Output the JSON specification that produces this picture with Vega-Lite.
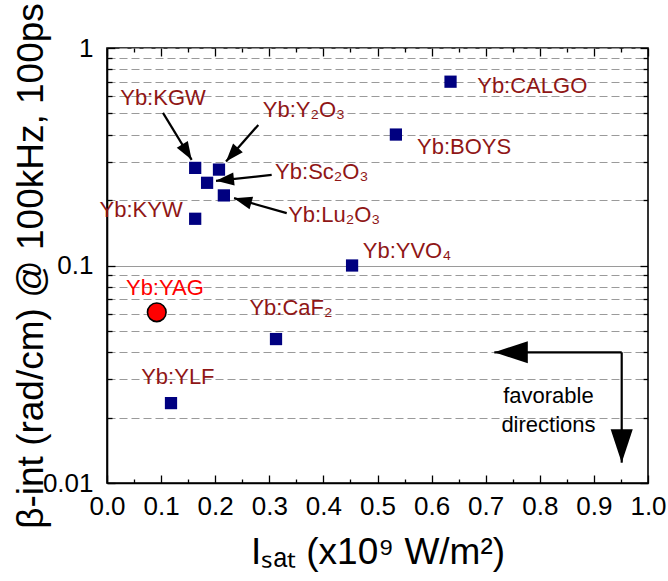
{
  "$schema": "https://vega.github.io/schema/vega-lite/v6.json",
  "width": 541,
  "height": 435,
  "autosize": {"type": "none"},
  "padding": {"left": 107, "top": 48, "right": 20, "bottom": 98},
  "background": "white",
  "config": {
    "view": {"stroke": "#000", "strokeWidth": 1.6},
    "font": "Liberation Sans",
    "text": {"font": "Liberation Sans"},
    "axis": {
      "domainColor": "#000", "domainWidth": 1.6,
      "tickColor": "#000", "tickWidth": 1.3,
      "labelColor": "#000", "titleColor": "#000",
      "labelFont": "Liberation Sans", "titleFont": "Liberation Sans",
      "titleFontWeight": "normal"
    }
  },
  "datasets": {
    "crystals": [
      {"name": "Yb:CALGO", "x": 0.635, "y": 0.70, "lx": 0.786, "ly": 0.668},
      {"name": "Yb:BOYS", "x": 0.534, "y": 0.40, "lx": 0.66, "ly": 0.35},
      {"name": "Yb:KGW", "x": 0.163, "y": 0.281, "lx": 0.1035, "ly": 0.589},
      {"name": "Yb:Y₂O₃", "x": 0.207, "y": 0.276, "lx": 0.364, "ly": 0.518},
      {"name": "Yb:Sc₂O₃", "x": 0.185, "y": 0.240, "lx": 0.397, "ly": 0.269},
      {"name": "Yb:Lu₂O₃", "x": 0.216, "y": 0.210, "lx": 0.42, "ly": 0.171},
      {"name": "Yb:KYW", "x": 0.163, "y": 0.164, "lx": 0.063, "ly": 0.180},
      {"name": "Yb:YVO₄", "x": 0.453, "y": 0.1, "lx": 0.5545, "ly": 0.1166},
      {"name": "Yb:YAG", "x": 0.092, "y": 0.0609, "lx": 0.107, "ly": 0.0792},
      {"name": "Yb:CaF₂", "x": 0.3124, "y": 0.0459, "lx": 0.34, "ly": 0.0638},
      {"name": "Yb:YLF", "x": 0.1183, "y": 0.0233, "lx": 0.131, "ly": 0.0307}
    ],
    "arrows": [
      {"target": "Yb:KGW", "x": 0.1035, "y": 0.503, "x2": 0.1565, "y2": 0.306, "angle": 148.6, "head": "small"},
      {"target": "Yb:Y2O3", "x": 0.2797, "y": 0.443, "x2": 0.22, "y2": 0.301, "angle": 221.4, "head": "small"},
      {"target": "Yb:Sc2O3", "x": 0.3044, "y": 0.261, "x2": 0.2015, "y2": 0.245, "angle": 263.9, "head": "small"},
      {"target": "Yb:Lu2O3", "x": 0.3322, "y": 0.174, "x2": 0.2348, "y2": 0.204, "angle": 285.9, "head": "small"},
      {"target": "lower Isat", "x": 0.9514, "y": 0.0399, "x2": 0.7159, "y2": 0.0399, "angle": 270, "head": "big"},
      {"target": "lower beta", "x": 0.9514, "y": 0.0399, "x2": 0.9514, "y2": 0.0124, "angle": 180, "head": "big"}
    ],
    "notes": [
      {"note": "favorable directions", "x": 0.816, "y": 0.0252}
    ]
  },
  "layer": [
    {
      "data": {"name": "crystals"},
      "transform": [{"filter": "datum.name !== 'Yb:YAG'"}],
      "mark": {"type": "square", "size": 150, "color": "#000080", "opacity": 1},
      "encoding": {
        "x": {
          "field": "x", "type": "quantitative",
          "scale": {"domain": [0, 1], "nice": false, "zero": false},
          "axis": {
            "orient": "bottom",
            "values": [0, 0.05, 0.1, 0.15, 0.2, 0.25, 0.3, 0.35, 0.4, 0.45, 0.5, 0.55, 0.6, 0.65, 0.7, 0.75, 0.8, 0.85, 0.9, 0.95, 1],
            "labelExpr": "abs(datum.value*10 - round(datum.value*10)) < 1e-6 ? format(datum.value, '.1f') : ''",
            "labelFontSize": 26,
            "labelPadding": 18,
            "labelFlush": false,
            "labelOverlap": false,
            "labelBound": false,
            "tickSize": {"condition": {"test": "abs(datum.value*10 - round(datum.value*10)) < 1e-6", "value": -8}, "value": -4},
            "grid": false,
            "title": "Iₛₐₜ (x10⁹ W/m²)",
            "titleFontSize": 37,
            "titleBaseline": "alphabetic",
            "titleY": 80
          }
        },
        "y": {
          "field": "y", "type": "quantitative",
          "scale": {"type": "log", "domain": [0.01, 1], "nice": false},
          "axis": {
            "orient": "left",
            "values": [0.01, 0.02, 0.03, 0.04, 0.05, 0.06, 0.07, 0.08, 0.09, 0.1, 0.2, 0.3, 0.4, 0.5, 0.6, 0.7, 0.8, 0.9, 1],
            "labelExpr": "datum.value === 0.01 ? '0.01' : datum.value === 0.1 ? '0.1' : datum.value === 1 ? '1' : ''",
            "labelFontSize": 26,
            "labelPadding": 22,
            "labelFlush": false,
            "labelOverlap": false,
            "labelBound": false,
            "tickSize": {"condition": {"test": "datum.value === 0.01 || datum.value === 0.1 || datum.value === 1", "value": -8}, "value": -5},
            "grid": true,
            "gridColor": "#9a9a9a",
            "gridWidth": 1.2,
            "gridDash": {"condition": {"test": "datum.value === 0.1", "value": []}, "value": [8, 4]},
            "title": "β-int (rad/cm) @ 100kHz, 100ps",
            "titleFontSize": 37,
            "titleBaseline": "alphabetic",
            "titleX": -65
          }
        }
      }
    },
    {
      "data": {"name": "crystals"},
      "transform": [{"filter": "datum.name === 'Yb:YAG'"}],
      "mark": {"type": "circle", "size": 346, "fill": "#ff0000", "stroke": "#000", "strokeWidth": 1.6, "opacity": 1},
      "encoding": {
        "x": {"field": "x", "type": "quantitative", "scale": {"domain": [0, 1], "nice": false, "zero": false}, "axis": null},
        "y": {"field": "y", "type": "quantitative", "scale": {"type": "log", "domain": [0.01, 1], "nice": false}, "axis": null}
      }
    },
    {
      "data": {"name": "crystals"},
      "mark": {"type": "text", "fontSize": 22, "align": "center", "baseline": "middle"},
      "encoding": {
        "x": {"field": "lx", "type": "quantitative", "scale": {"domain": [0, 1], "nice": false, "zero": false}, "axis": null},
        "y": {"field": "ly", "type": "quantitative", "scale": {"type": "log", "domain": [0.01, 1], "nice": false}, "axis": null},
        "text": {"field": "name", "type": "nominal"},
        "color": {"condition": {"test": "datum.name === 'Yb:YAG'", "value": "#ff0000"}, "value": "#8f1616"}
      }
    },
    {
      "data": {"name": "arrows"},
      "mark": {"type": "rule", "color": "#000", "strokeWidth": 2.2},
      "encoding": {
        "x": {"field": "x", "type": "quantitative", "scale": {"domain": [0, 1], "nice": false, "zero": false}, "axis": null},
        "y": {"field": "y", "type": "quantitative", "scale": {"type": "log", "domain": [0.01, 1], "nice": false}, "axis": null},
        "x2": {"field": "x2"},
        "y2": {"field": "y2"}
      }
    },
    {
      "data": {"name": "arrows"},
      "transform": [{"filter": "datum.head === 'small'"}],
      "mark": {"type": "point", "shape": "M0,0L0.36,1L-0.36,1Z", "filled": true, "fill": "#000", "strokeWidth": 0, "size": 1296, "opacity": 1},
      "encoding": {
        "x": {"field": "x2", "type": "quantitative", "scale": {"domain": [0, 1], "nice": false, "zero": false}, "axis": null},
        "y": {"field": "y2", "type": "quantitative", "scale": {"type": "log", "domain": [0.01, 1], "nice": false}, "axis": null},
        "angle": {"field": "angle", "type": "quantitative", "scale": null}
      }
    },
    {
      "data": {"name": "arrows"},
      "transform": [{"filter": "datum.head === 'big'"}],
      "mark": {"type": "point", "shape": "M0,0L0.33,1L-0.33,1Z", "filled": true, "fill": "#000", "strokeWidth": 0, "size": 4489, "opacity": 1},
      "encoding": {
        "x": {"field": "x2", "type": "quantitative", "scale": {"domain": [0, 1], "nice": false, "zero": false}, "axis": null},
        "y": {"field": "y2", "type": "quantitative", "scale": {"type": "log", "domain": [0.01, 1], "nice": false}, "axis": null},
        "angle": {"field": "angle", "type": "quantitative", "scale": null}
      }
    },
    {
      "data": {"name": "notes"},
      "mark": {"type": "text", "fontSize": 22, "align": "center", "baseline": "middle", "lineBreak": " ", "lineHeight": 29, "color": "#000"},
      "encoding": {
        "x": {"field": "x", "type": "quantitative", "scale": {"domain": [0, 1], "nice": false, "zero": false}, "axis": null},
        "y": {"field": "y", "type": "quantitative", "scale": {"type": "log", "domain": [0.01, 1], "nice": false}, "axis": null},
        "text": {"field": "note", "type": "nominal"}
      }
    },
    {
      "data": {"name": "crystals"},
      "mark": {"type": "point", "opacity": 0},
      "encoding": {
        "x": {
          "field": "x", "type": "quantitative",
          "scale": {"domain": [0, 1], "nice": false, "zero": false},
          "axis": {
            "orient": "top",
            "values": [0, 0.05, 0.1, 0.15, 0.2, 0.25, 0.3, 0.35, 0.4, 0.45, 0.5, 0.55, 0.6, 0.65, 0.7, 0.75, 0.8, 0.85, 0.9, 0.95, 1],
            "labels": false,
            "domain": false,
            "grid": false,
            "title": null,
            "tickSize": {"condition": {"test": "abs(datum.value*10 - round(datum.value*10)) < 1e-6", "value": -8}, "value": -4}
          }
        },
        "y": {
          "field": "y", "type": "quantitative",
          "scale": {"type": "log", "domain": [0.01, 1], "nice": false},
          "axis": {
            "orient": "right",
            "values": [0.01, 0.02, 0.03, 0.04, 0.05, 0.06, 0.07, 0.08, 0.09, 0.1, 0.2, 0.3, 0.4, 0.5, 0.6, 0.7, 0.8, 0.9, 1],
            "labels": false,
            "domain": false,
            "grid": false,
            "title": null,
            "tickSize": {"condition": {"test": "datum.value === 0.01 || datum.value === 0.1 || datum.value === 1", "value": -8}, "value": -5}
          }
        }
      }
    }
  ],
  "resolve": {"axis": {"x": "independent", "y": "independent"}}
}
